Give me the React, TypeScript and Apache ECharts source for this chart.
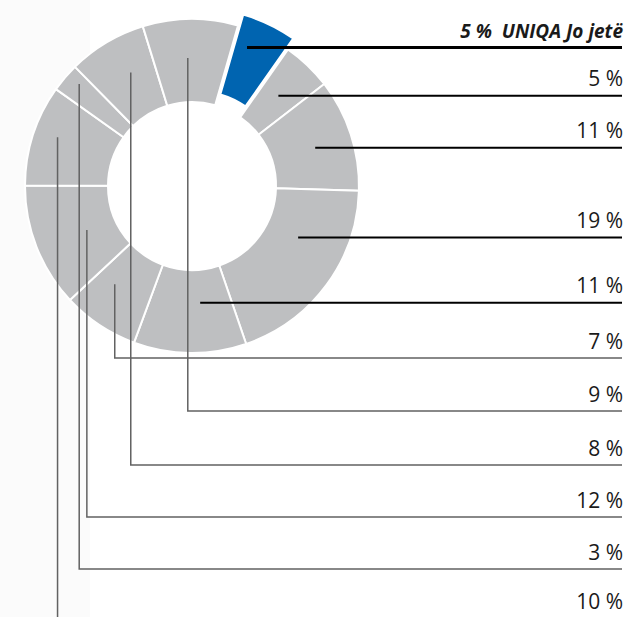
import React, { useEffect, useRef } from 'react';
import * as echarts from 'echarts';

// ---- data ----
const companies = [
  'UNIQA Jo jetë',
  'Shoqëria 2',
  'Shoqëria 3',
  'Shoqëria 4',
  'Shoqëria 5',
  'Shoqëria 6',
  'Shoqëria 7',
  'Shoqëria 8',
  'Shoqëria 9',
  'Shoqëria 10',
  'Shoqëria 11',
];
const marketShare = [5.3, 4.8, 10.9, 19.3, 10.9, 7.4, 12.0, 9.8, 2.8, 7.6, 9.2];
const highlighted = 'UNIQA Jo jetë';

// ---- layout / style ----
const CX = 192;
const CY = 186;
const R0 = 84;
const R1 = 167;
const START = 16; // degrees clockwise from 12 o'clock
const OFFSET = 12;
const XR = 622;
const BLUE = '#0064b0';
const GRAY = '#bebfc1';
// leader anchor inside each slice: [fraction of slice span, radius]
const leaderAnchor: [number, number][] = [
  [0.28, 137], [0.5, 125], [0.52, 129], [0.35, 118], [0.38, 117],
  [0.67, 125], [0.47, 114], [0.56, 143], [0.66, 152], [0.59, 129], [0.46, 128],
];
// row of the horizontal leader for slices on the left (null: same as anchor)
const leaderRowY: (number | null)[] = [null, null, null, null, null, 358, 517, 618, 569, 465, 411];

export default function App() {
  const ref = useRef<HTMLDivElement>(null);
  useEffect(() => {
    if (!ref.current) return;
    const chart = echarts.init(ref.current, undefined, { renderer: 'svg' });
    const total = marketShare.reduce((a, b) => a + b, 0);
    const startDeg: number[] = [];
    let acc = START;
    marketShare.forEach((v) => {
      startDeg.push(acc);
      acc += (v / total) * 360;
    });
    const anchorOf = (i: number) => {
      const span = (marketShare[i] / total) * 360;
      const [f, r] = leaderAnchor[i];
      const a = ((startDeg[i] + f * span) * Math.PI) / 180;
      let x = CX + r * Math.sin(a);
      let y = CY - r * Math.cos(a);
      if (companies[i] === highlighted) {
        const m = ((startDeg[i] + span / 2) * Math.PI) / 180;
        x += OFFSET * Math.sin(m);
        y -= OFFSET * Math.cos(m);
      }
      return [x, y];
    };
    const isRight = (i: number) => leaderRowY[i] == null;
    const common = {
      type: 'pie',
      center: [CX, CY],
      radius: [R0, R1],
      startAngle: 90 - START,
      clockwise: true,
      avoidLabelOverlap: false,
      emphasis: { disabled: true },
    };

    chart.setOption({
      animation: false,
      graphic: [
        { type: 'rect', z: -10, silent: true, shape: { x: 0, y: 0, width: 90, height: 617 }, style: { fill: '#fbfbfb' } },
      ],
      series: [
        {
          ...common,
          z: 2,
          selectedMode: 'single',
          selectedOffset: OFFSET,
          select: { itemStyle: { color: BLUE } },
          itemStyle: { borderColor: '#ffffff', borderWidth: 2 },
          label: { show: false },
          labelLine: { show: false },
          data: companies.map((name, i) => ({
            name,
            value: marketShare[i],
            selected: name === highlighted,
            itemStyle: { color: name === highlighted ? BLUE : GRAY },
          })),
        },
        {
          ...common,
          z: 5,
          silent: true,
          itemStyle: { color: 'rgba(0,0,0,0)', borderWidth: 0 },
          label: {
            show: true,
            position: 'outside',
            fontFamily: 'Open Sans',
            fontSize: 21,
            color: '#1a1a1a',
            formatter: (p: any) =>
              p.name === highlighted
                ? `${Math.round(p.value)} %\u00a0 ${p.name}`
                : `${Math.round(p.value)} %`,
          },
          labelLine: { show: true, length: 10, length2: 10 },
          labelLayout: (params: any) => {
            const i = params.dataIndex;
            const [ax, ay] = anchorOf(i);
            const row = leaderRowY[i];
            const lineY = row == null ? ay : row;
            const pts = row == null ? [[ax, ay], [XR, ay]] : [[ax, ay], [ax, row], [XR, row]];
            return {
              x: XR + 1,
              y: lineY - 7,
              align: 'right',
              verticalAlign: 'bottom',
              labelLinePoints: pts,
            };
          },
          data: companies.map((name, i) => ({
            name,
            value: marketShare[i],
            label:
              name === highlighted
                ? { fontStyle: 'italic', fontWeight: 'bold', fontSize: 19 }
                : {},
            labelLine: {
              lineStyle: isRight(i)
                ? { color: '#000000', width: name === highlighted ? 3 : 2 }
                : { color: '#626262', width: 1.5 },
            },
          })),
        },
      ],
    });
    return () => chart.dispose();
  }, []);
  return (
    <div
      ref={ref}
      style={{ position: 'absolute', left: 0, top: 0, width: 626, height: 617, background: '#ffffff' }}
    />
  );
}
